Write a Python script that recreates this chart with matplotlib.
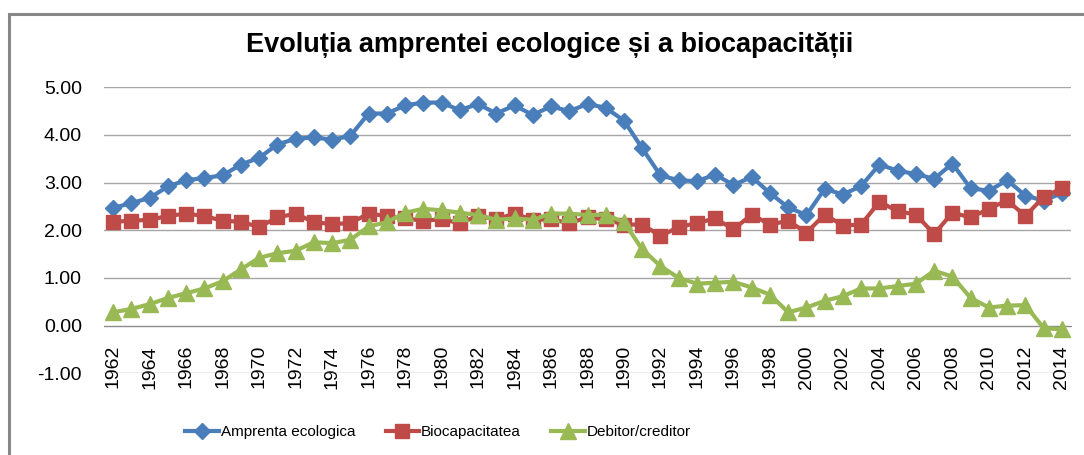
import matplotlib.pyplot as plt
import numpy as np
from matplotlib.patches import Rectangle

years = [str(y) for y in range(1962, 2015)]

amprenta = [2.47, 2.57, 2.68, 2.92, 3.05, 3.10, 3.15, 3.38, 3.52, 3.80,
            3.92, 3.95, 3.90, 3.98, 4.45, 4.45, 4.62, 4.68, 4.68, 4.52,
            4.65, 4.45, 4.62, 4.42, 4.60, 4.50, 4.65, 4.57, 4.30, 3.72,
            3.15, 3.05, 3.03, 3.17, 2.95, 3.12, 2.78, 2.48, 2.32, 2.87,
            2.75, 2.93, 3.38, 3.25, 3.18, 3.08, 3.40, 2.88, 2.83, 3.05,
            2.73, 2.62, 2.78]
biocap = [2.18, 2.20, 2.22, 2.30, 2.35, 2.30, 2.20, 2.18, 2.07, 2.27,
          2.35, 2.17, 2.13, 2.15, 2.35, 2.30, 2.25, 2.20, 2.23, 2.15,
          2.30, 2.23, 2.35, 2.22, 2.23, 2.15, 2.27, 2.23, 2.12, 2.12,
          1.88, 2.07, 2.15, 2.25, 2.02, 2.33, 2.12, 2.20, 1.95, 2.33,
          2.10, 2.12, 2.60, 2.40, 2.33, 1.92, 2.37, 2.27, 2.45, 2.63,
          2.30, 2.70, 2.88]
debitor = [0.28, 0.35, 0.45, 0.58, 0.68, 0.78, 0.93, 1.18, 1.42, 1.52,
           1.57, 1.75, 1.73, 1.80, 2.08, 2.17, 2.37, 2.45, 2.42, 2.37,
           2.32, 2.22, 2.25, 2.22, 2.35, 2.35, 2.32, 2.33, 2.17, 1.60,
           1.25, 1.00, 0.88, 0.90, 0.92, 0.80, 0.65, 0.28, 0.38, 0.52,
           0.62, 0.78, 0.78, 0.83, 0.88, 1.15, 1.03, 0.58, 0.38, 0.42,
           0.43, -0.05, -0.08]

plt.rcParams['font.family'] = ['Liberation Sans', 'DejaVu Sans']

fig = plt.figure(figsize=(10.84, 4.55), dpi=100)
ax = fig.add_axes([104 / 1084, 1 - 373.3 / 455, (1071 - 104) / 1084, (373.3 - 87.3) / 455])

# chart border
fig.patches.append(Rectangle((9 / 1084, -0.1), 1.2, 1 - 14 / 455 + 0.1, transform=fig.transFigure,
                             fill=False, edgecolor='#878787', linewidth=2.2))

x = np.arange(len(years))
ax.plot(x, amprenta, color='#4A7EBB', linewidth=3, marker='D', markersize=8.5,
        label='Amprenta ecologica', zorder=3)
ax.plot(x, biocap, color='#BE4B48', linewidth=3, marker='s', markersize=10,
        label='Biocapacitatea', zorder=4)
ax.plot(x, debitor, color='#98B954', linewidth=3, marker='^', markersize=11,
        label='Debitor/creditor', zorder=5)

# move the category axis to 0 first (this resets tick settings)
ax.spines['bottom'].set_position(('data', 0))
ax.spines['bottom'].set_color('#8C8C8C')
for s in ['top', 'right', 'left']:
    ax.spines[s].set_visible(False)

ax.set_xlim(-0.5, len(years) - 0.5)
ax.set_ylim(-1, 5)
ax.set_yticks(np.arange(-1, 6, 1))
ax.set_yticklabels(['%.2f' % v for v in np.arange(-1, 6, 1)])
ax.yaxis.grid(True, color='#A6A6A6', linewidth=1)
ax.set_axisbelow(True)

ax.set_xticks(x[::2])
ax.set_xticklabels(years[::2], rotation=90, va='top')
ax.tick_params(axis='x', length=0, pad=14, labelsize=14)
ax.tick_params(axis='y', length=0, pad=16, labelsize=14)

fig.text(550 / 1084, 1 - 45 / 455, 'Evoluția amprentei ecologice și a biocapacității',
         ha='center', va='center', fontsize=19.5, fontweight='bold')

fig.legend(loc='center', bbox_to_anchor=(438 / 1084, 1 - 432 / 455), ncol=3, frameon=False,
           fontsize=11, handlelength=2.2, handletextpad=0.1, columnspacing=2.0)

fig.savefig('out.png', dpi=100)
